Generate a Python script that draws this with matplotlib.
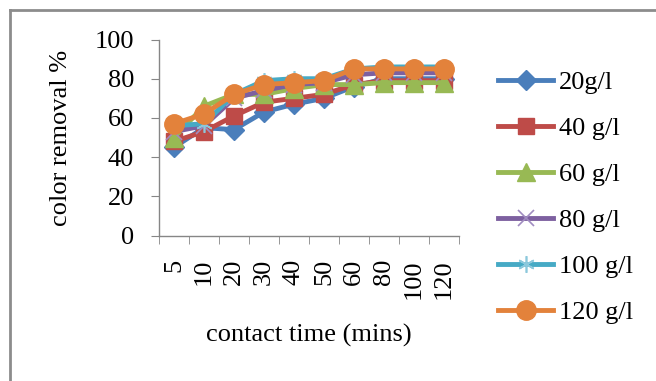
import matplotlib
matplotlib.use("Agg")
import matplotlib.pyplot as plt
from matplotlib.lines import Line2D

plt.rcParams['font.family'] = ['Liberation Serif', 'DejaVu Serif']

# data
times = ['5', '10', '20', '30', '40', '50', '60', '80', '100', '120']
g20 = [45, 55, 54, 63, 67, 70, 76, 80, 80, 80]
g40 = [48, 53, 61, 68, 70, 72, 77, 79, 79, 79]
g60 = [50, 66, 72, 72, 75, 77, 77, 78, 78, 78]
g80 = [53, 56, 70, 74, 77, 78, 82, 83, 83, 83]
g100 = [56, 57, 72, 79, 80, 80, 85, 86, 86, 86]
g120 = [57, 62, 72, 77, 78, 79, 85, 85, 85, 85]
labels = ['20g/l', '40 g/l', '60 g/l', '80 g/l', '100 g/l', '120 g/l']

series = [g20, g40, g60, g80, g100, g120]
colors = ['#4A7EBB', '#BE4B48', '#98B954', '#7D60A0', '#46AAC5', '#E3823B']
markers = ['D', 's', '^', 'x', '*', 'o']
msizes = [10, 12, 13, 11, 12, 14]

fig = plt.figure(figsize=(6.56, 3.81), dpi=100)
ax = fig.add_axes([159/656, 1 - 235.5/381, 300/656, 196/381])

x = list(range(len(times)))
for ys, c, m, ms, lab in zip(series, colors, markers, msizes, labels):
    if m in ('x', '*'):
        ax.plot(x, ys, color=c, lw=3.5, marker='x' if m == 'x' else (6, 2, 0),
                ms=ms, mew=1.2, mec='#8CC8DC' if m == '*' else '#A08CC0', label=lab)
    else:
        ax.plot(x, ys, color=c, lw=3.5, marker=m, ms=ms, mec=c, label=lab)

ax.set_xlim(-0.5, len(times) - 0.5)
ax.set_ylim(0, 100)
ax.set_yticks([0, 20, 40, 60, 80, 100])
ax.set_xticks(x)
ax.set_xticklabels(times, rotation=90, va='top')
ax.set_xticks([i - 0.5 for i in range(len(times) + 1)], minor=True)
ax.tick_params(axis='x', which='major', length=0, pad=17, labelsize=19)
ax.tick_params(axis='x', which='minor', length=6, color='#868686', direction='out')
ax.tick_params(axis='y', length=6, color='#868686', pad=12, labelsize=19)

for s in ['top', 'right']:
    ax.spines[s].set_visible(False)
for s in ['left', 'bottom']:
    ax.spines[s].set_color('#868686')
    ax.spines[s].set_linewidth(1)

ax.set_xlabel('contact time (mins)', fontsize=19, labelpad=18)
ax.set_ylabel('color removal %', fontsize=19, labelpad=16)

ax.legend(loc='center left', bbox_to_anchor=(498/656, 1 - 197.5/381),
          bbox_transform=fig.transFigure, frameon=False, fontsize=19,
          handlelength=2.1, handletextpad=0.2, labelspacing=0.85,
          borderpad=0, borderaxespad=0)

# chart area border
fig.add_artist(Line2D([10/656, 10/656], [0, 1 - 10/381], color='#8C8C8C', lw=2))
fig.add_artist(Line2D([10/656, 1], [1 - 10/381, 1 - 10/381], color='#8C8C8C', lw=2))

fig.savefig('out.png', dpi=100)
